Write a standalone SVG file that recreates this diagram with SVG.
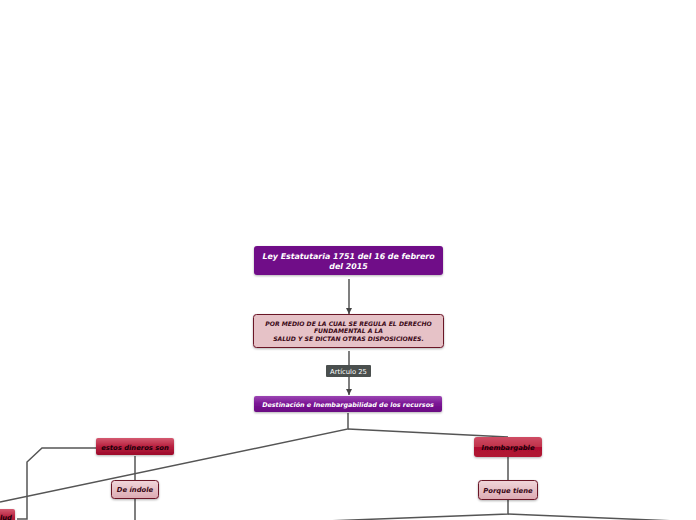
<svg xmlns="http://www.w3.org/2000/svg" width="696" height="520" viewBox="0 0 696 520">
<defs>
<linearGradient id="gPurple" x1="0" y1="0" x2="0" y2="1"><stop offset="0" stop-color="#9b45b3"/><stop offset="0.5" stop-color="#7a1494"/><stop offset="1" stop-color="#6a0a82"/></linearGradient>
<linearGradient id="gRed" x1="0" y1="0" x2="0" y2="1"><stop offset="0" stop-color="#d45a70"/><stop offset="0.5" stop-color="#b8213f"/><stop offset="1" stop-color="#9c0a2a"/></linearGradient>
<linearGradient id="gRed2" x1="0" y1="0" x2="0" y2="1"><stop offset="0" stop-color="#cf4d64"/><stop offset="0.5" stop-color="#c0304a"/><stop offset="0.52" stop-color="#b01030"/><stop offset="1" stop-color="#b01434"/></linearGradient>
<linearGradient id="gPink" x1="0" y1="0" x2="0" y2="1"><stop offset="0" stop-color="#f0d6da"/><stop offset="1" stop-color="#dcaab2"/></linearGradient>
<marker id="arr" viewBox="0 0 10 10" refX="10" refY="5" markerWidth="7" markerHeight="6" orient="auto" markerUnits="userSpaceOnUse"><path d="M0,0 L10,5 L0,10 z" fill="#444"/></marker>
<filter id="sh" x="-10%" y="-20%" width="120%" height="150%"><feDropShadow dx="0" dy="1" stdDeviation="0.8" flood-color="#000" flood-opacity="0.3"/></filter>
</defs>
<style>
.ln{fill:none;stroke:#555;stroke-width:1.5}
.t{font-family:"DejaVu Sans",Verdana,sans-serif;font-weight:bold;font-style:italic;text-anchor:middle}
.w{fill:#fff}
.d{fill:#3a0816}
.k{fill:#1a0008}
</style>
<g id="connectors">
<line class="ln" x1="349" y1="279" x2="349" y2="314" marker-end="url(#arr)"/>
<line class="ln" x1="349" y1="351" x2="349" y2="395" marker-end="url(#arr)"/>
<polyline class="ln" points="348,413 348,429 0,502"/>
<polyline class="ln" points="348,429 508,437"/>
<polyline class="ln" points="96,448 42,448 27,462 27,519 17,519"/>
<line class="ln" x1="135" y1="456" x2="135" y2="480"/>
<line class="ln" x1="135" y1="499" x2="135" y2="520"/>
<line class="ln" x1="508" y1="457" x2="508" y2="480"/>
<polyline class="ln" points="508,500 508,514 300,522"/>
<polyline class="ln" points="508,514 700,522"/>
</g>
<g id="label-articulo">
<rect x="326" y="365" width="45" height="12" rx="1" fill="#4a4f4e"/>
<text x="348.5" y="374" font-family="'DejaVu Sans',sans-serif" font-size="6.8" fill="#fff" text-anchor="middle">Artículo 25</text>
</g>
<g id="n-ley">
<rect x="254" y="246" width="189" height="29" rx="3" fill="#700a88" filter="url(#sh)"/>
<text class="t w" x="348.5" y="259" font-size="7.9">Ley Estatutaria 1751 del 16 de febrero</text>
<text class="t w" x="348.5" y="269" font-size="7.9">del 2015</text>
</g>
<g id="n-por">
<rect x="253.5" y="314.5" width="190" height="33" rx="3" fill="#e6c2c7" stroke="#6b1426" stroke-width="1" filter="url(#sh)"/>
<text class="t d" x="348.5" y="326" font-size="6.1">POR MEDIO DE LA CUAL SE REGULA EL DERECHO</text>
<text class="t d" x="348.5" y="333" font-size="6.1">FUNDAMENTAL A LA</text>
<text class="t d" x="348.5" y="341" font-size="6.1">SALUD Y SE DICTAN OTRAS DISPOSICIONES.</text>
</g>
<g id="n-destinacion">
<rect x="254" y="396" width="188" height="16" rx="2" fill="url(#gPurple)" filter="url(#sh)"/>
<text class="t w" x="348" y="406.5" font-size="6.4">Destinación e Inembargabilidad de los recursos</text>
</g>
<g id="n-estos">
<rect x="96" y="438" width="78" height="17" rx="2" fill="url(#gRed)" filter="url(#sh)"/>
<text class="t k" x="135" y="449.5" font-size="6.8">estos dineros son</text>
</g>
<g id="n-deindole">
<rect x="111.5" y="480.5" width="47" height="18" rx="3" fill="url(#gPink)" stroke="#6b1426" stroke-width="1" filter="url(#sh)"/>
<text class="t d" x="135" y="492" font-size="6.8">De índole</text>
</g>
<g id="n-salud">
<rect x="-40" y="509" width="55" height="16" rx="2" fill="url(#gRed)" filter="url(#sh)"/>
<text class="t k" x="12" y="520" font-size="6.8" style="text-anchor:end">Salud</text>
</g>
<g id="n-inembargable">
<rect x="474" y="437" width="68" height="20" rx="3" fill="url(#gRed2)" filter="url(#sh)"/>
<text class="t k" x="508" y="450" font-size="6.8">Inembargable</text>
</g>
<g id="n-porque">
<rect x="478.5" y="480.5" width="59" height="19" rx="3" fill="url(#gPink)" stroke="#6b1426" stroke-width="1" filter="url(#sh)"/>
<text class="t d" x="508" y="492.5" font-size="6.8">Porque tiene</text>
</g>
</svg>
